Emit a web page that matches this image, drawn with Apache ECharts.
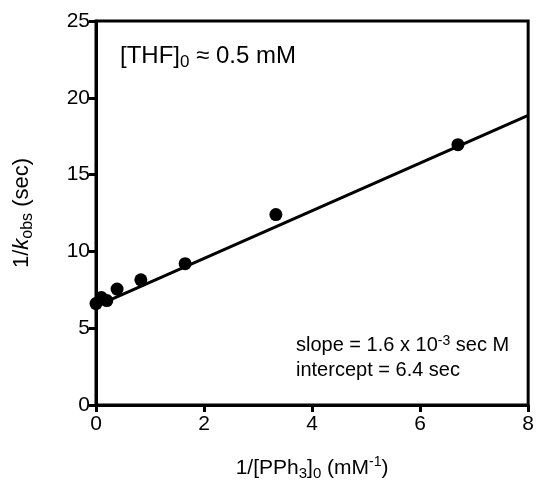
<!DOCTYPE html>
<html>
<head>
<meta charset="utf-8">
<script src="https://cdn.jsdelivr.net/npm/echarts@6/dist/echarts.min.js"></script>
<style>html,body{margin:0;padding:0;background:#fff}#c{width:537px;height:486px}</style>
</head>
<body>
<div id="c"></div>
<script>
var dataX = [0, 0.1, 0.2, 0.39, 0.83, 1.65, 3.33, 6.7];
var dataY = [6.6, 7.0, 6.8, 7.55, 8.15, 9.2, 12.4, 16.95];
var fitX = [0, 8];
var fitY = [6.43, 18.85];
var xTicks = [0, 2, 4, 6, 8];
var yTicks = [0, 5, 10, 15, 20, 25];

var chart = echarts.init(document.getElementById('c'), null, {renderer: 'canvas'});
var font = 'Liberation Sans, Arial, sans-serif';
chart.setOption({
  animation: false,
  backgroundColor: '#fff',
  grid: {left: 96, right: 6, top: 21, bottom: 77, show: true, borderColor: '#000', borderWidth: 3, containLabel: false},
  xAxis: {
    type: 'value', min: xTicks[0], max: xTicks[xTicks.length-1], interval: 2,
    axisLine: {onZero: false, lineStyle: {color: '#000', width: 3}},
    axisTick: {show: true, inside: false, length: 7, lineStyle: {color: '#000', width: 3}},
    axisLabel: {color: '#000', fontSize: 21, fontFamily: font, margin: 9},
    splitLine: {show: false},
    name: '1/[PPh{sub|3}]{sub|0} (mM{sup|-1})',
    nameLocation: 'middle', nameGap: 50,
    nameTextStyle: {color: '#000', fontSize: 21, fontFamily: font,
      rich: {sub: {fontSize: 15, fontFamily: font, verticalAlign: 'bottom', padding: [11,0,0,0], color:'#000'},
             sup: {fontSize: 14, fontFamily: font, verticalAlign: 'top', padding: [0,0,9,0], color:'#000'}}}
  },
  yAxis: {
    type: 'value', min: yTicks[0], max: yTicks[yTicks.length-1], interval: 5,
    axisLine: {onZero: false, lineStyle: {color: '#000', width: 3}},
    axisTick: {show: true, inside: false, length: 7, lineStyle: {color: '#000', width: 3}},
    axisLabel: {color: '#000', fontSize: 21, fontFamily: font, margin: 6},
    splitLine: {show: false},
    name: '1/{i|k}{sub|obs} (sec)',
    nameLocation: 'middle', nameGap: 60, nameRotate: 90,
    nameTextStyle: {color: '#000', fontSize: 22, fontFamily: font,
      rich: {i: {fontSize: 22, fontStyle: 'italic', fontFamily: font, color:'#000'},
             sub: {fontSize: 16, fontFamily: font, verticalAlign: 'bottom', padding: [12,0,0,0], color:'#000'}}}
  },
  graphic: [
    {type: 'text', left: 120, top: 44, style: {
      text: '[THF]{sub|0} ≈ 0.5 mM', fill: '#000', fontSize: 24, fontFamily: font,
      rich: {sub: {fontSize: 17, fontFamily: font, verticalAlign: 'bottom', padding: [12,0,0,0], fill:'#000'}}}},
    {type: 'text', left: 296, top: 334, style: {
      text: 'slope = 1.6 x 10{sup|-3} sec M', fill: '#000', fontSize: 20, fontFamily: font,
      rich: {sup: {fontSize: 14, fontFamily: font, verticalAlign: 'top', padding: [0,0,9,0], fill:'#000'}}}},
    {type: 'text', left: 296, top: 360, style: {
      text: 'intercept = 6.4 sec', fill: '#000', fontSize: 20, fontFamily: font}}
  ],
  series: [
    {type: 'line', data: fitX.map(function(x,i){return [x, fitY[i]];}), showSymbol: false, symbol: 'none',
     lineStyle: {color: '#000', width: 3}, z: 2},
    {type: 'scatter', data: dataX.map(function(x,i){return [x, dataY[i]];}), symbolSize: 13,
     itemStyle: {color: '#000', opacity: 1}, z: 3, clip: false}
  ]
});
</script>
</body>
</html>
